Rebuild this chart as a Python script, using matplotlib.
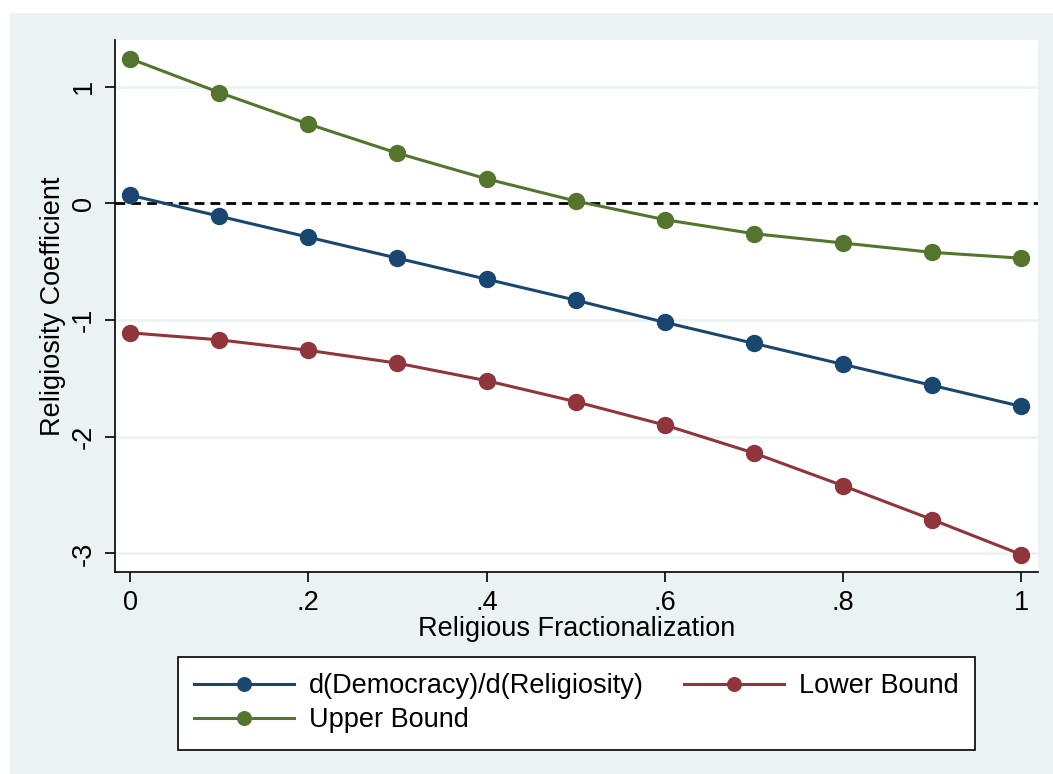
import matplotlib
matplotlib.use("Agg")
import matplotlib.pyplot as plt
from matplotlib.patches import Rectangle

plt.rcParams['font.family'] = ['Liberation Sans', 'DejaVu Sans']

# values
fract = [0, 0.1, 0.2, 0.3, 0.4, 0.5, 0.6, 0.7, 0.8, 0.9, 1.0]
effect = [0.07, -0.11, -0.29, -0.47, -0.65, -0.83, -1.02, -1.20, -1.38, -1.56, -1.74]
lower = [-1.11, -1.17, -1.26, -1.37, -1.52, -1.70, -1.90, -2.14, -2.42, -2.71, -3.01]
upper = [1.24, 0.95, 0.68, 0.43, 0.21, 0.02, -0.14, -0.26, -0.34, -0.42, -0.47]

xticks = [0, 0.2, 0.4, 0.6, 0.8, 1.0]
xticklabels = ["0", ".2", ".4", ".6", ".8", "1"]
yticks = [-3, -2, -1, 0, 1]

navy = "#1A476F"
maroon = "#90353B"
green = "#55752F"
bg = "#EAF2F3"
fs = 19.5

fig = plt.figure(figsize=(10.53, 7.74), dpi=100)
fig.patch.set_facecolor("white")
fig.patches.append(Rectangle((10 / 1053, 0), 1, 1 - 13 / 774, transform=fig.transFigure,
                             facecolor=bg, edgecolor="none", zorder=-10))

ax = fig.add_axes([115 / 1053, 1 - 572 / 774, 923 / 1053, 532 / 774])
ax.set_zorder(1)
ax.set_facecolor("white")

for y in yticks:
    ax.axhline(y, color=bg, lw=1.8, zorder=1)
ax.axhline(0, color="black", lw=2.0, ls=(0, (3.5, 2.2)), zorder=2)

kw = dict(lw=2.2, marker="o", markersize=11.5, zorder=3)
l1, = ax.plot(fract, effect, color=navy, label="d(Democracy)/d(Religiosity)", **kw)
l2, = ax.plot(fract, lower, color=maroon, label="Lower Bound", **kw)
l3, = ax.plot(fract, upper, color=green, label="Upper Bound", **kw)

ax.set_xlim(-0.017, 1.019)
ax.set_ylim(-3.16, 1.40)
ax.set_xticks(xticks)
ax.set_xticklabels(xticklabels)
ax.set_yticks(yticks)
ax.set_yticklabels([str(v) for v in yticks], rotation=90, va="center")
ax.tick_params(labelsize=fs, length=7, width=1.2, direction="out", pad=6)

for s in ["top", "right"]:
    ax.spines[s].set_visible(False)
for s in ["left", "bottom"]:
    ax.spines[s].set_linewidth(1.2)

ax.set_xlabel("Religious Fractionalization", fontsize=fs, labelpad=0)
ax.set_ylabel("Religiosity Coefficient", fontsize=fs)
ax.yaxis.set_label_coords(-0.053, 0.5)

leg = fig.legend([l1, l3, l2], [l1.get_label(), l3.get_label(), l2.get_label()],
                 ncol=2, loc="upper left", mode="expand", borderaxespad=0,
                 bbox_to_anchor=(178 / 1053, 27 / 774, 797 / 1053, 90 / 774),
                 fontsize=fs, frameon=True, fancybox=False, edgecolor="black",
                 facecolor="white", framealpha=1,
                 handlelength=3.7, handletextpad=0.55, labelspacing=0.3,
                 borderpad=0.6, columnspacing=1.5, markerscale=0.85)
leg.get_frame().set_linewidth(1.2)

fig.savefig("out.png", dpi=100, facecolor=fig.get_facecolor())
